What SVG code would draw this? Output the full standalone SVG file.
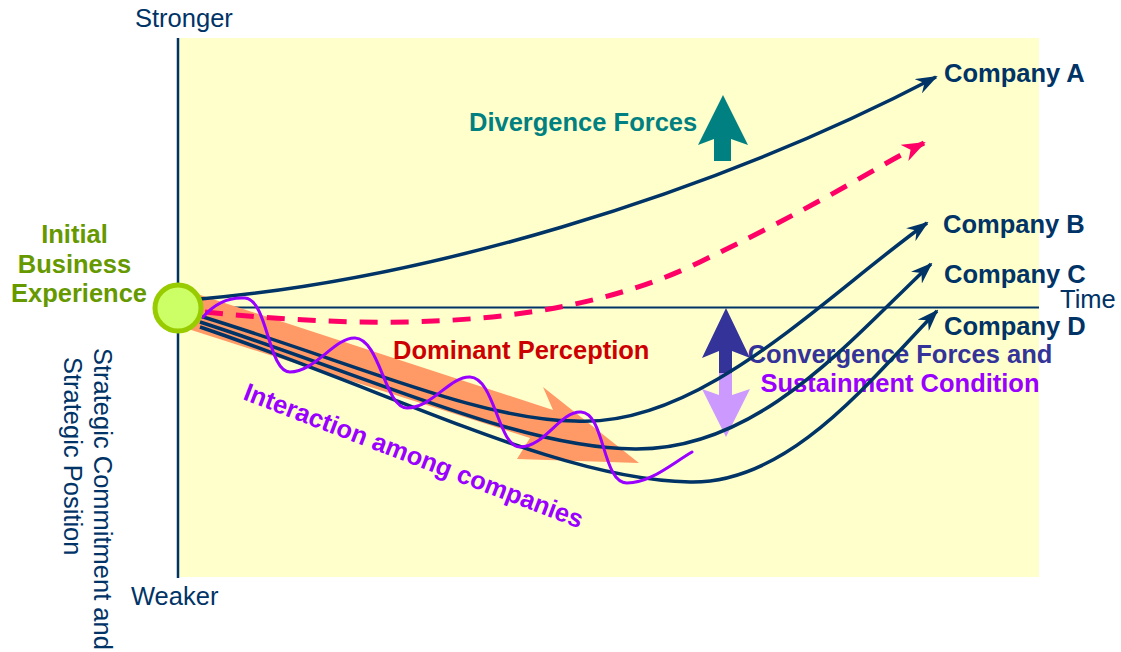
<svg xmlns="http://www.w3.org/2000/svg" width="1121" height="652" viewBox="0 0 1121 652">
  <style>
    .lbl { font-family: "Liberation Sans", Arial, sans-serif; font-size: 25.5px; }
    .b { font-weight: bold; }
    .navy { fill: #003366; }
    .curve { fill: none; stroke: #003366; stroke-width: 3.5; }
    .axis { stroke: #003366; fill: none; }
  </style>
  <defs>
    <marker id="headNavy" markerUnits="userSpaceOnUse" viewBox="0 0 22 16" refX="20" refY="8" markerWidth="22" markerHeight="16" orient="auto">
      <path d="M0,0 L22,8 L0,16 L7,8 z" fill="#003366"/>
    </marker>
    <marker id="headPink" markerUnits="userSpaceOnUse" viewBox="0 0 24 18" refX="22" refY="9" markerWidth="24" markerHeight="18" orient="auto">
      <path d="M0,0 L24,9 L0,18 L7,9 z" fill="#FF0066"/>
    </marker>
  </defs>

  <!-- plot area -->
  <rect x="178" y="38" width="861" height="539" fill="#FFFFCC"/>
  <line class="axis" x1="178" y1="38" x2="178" y2="578" stroke-width="2.5"/>
  <line class="axis" x1="178" y1="307.5" x2="1039" y2="307.5" stroke-width="2"/>

  <!-- axis labels -->
  <g id="axis-labels" class="lbl navy">
    <text x="135" y="27">Stronger</text>
    <text x="131" y="605">Weaker</text>
    <text x="1060" y="308">Time</text>
    <text transform="translate(94,348) rotate(90)">Strategic Commitment and</text>
    <text transform="translate(64,357) rotate(90)">Strategic Position</text>
  </g>

  <!-- dominant perception band -->
  <g id="dominant-perception">
    <polygon points="185,290 553,410 543,387 639,463 517,459 530,438 185,328" fill="#FF9966"/>
    <text class="lbl b" x="393" y="359" fill="#CC0000">Dominant Perception</text>
  </g>

  <!-- divergence forces -->
  <g id="divergence">
    <text class="lbl b" x="469" y="131" fill="#008080">Divergence Forces</text>
    <polygon points="723,95 748,145 731,139 731,161 714,161 714,139 698,145" fill="#008080"/>
  </g>

  <!-- convergence forces -->
  <g id="convergence">
    <polygon points="726,308 750,358 732,351 732,373 719,373 719,351 702,358" fill="#333399"/>
    <polygon points="719,373 732,373 732,395 750,389 726,437 702,389 719,395" fill="#CC99FF"/>
    <text class="lbl b" x="900" y="363" text-anchor="middle" fill="#333399">Convergence Forces and</text>
    <text class="lbl b" x="900" y="392" text-anchor="middle" fill="#9900FF">Sustainment Condition</text>
  </g>

  <!-- interaction label -->
  <g id="interaction">
    <text class="lbl b" fill="#9900FF" transform="translate(242,399) rotate(21)">Interaction among companies</text>
  </g>

  <!-- trajectories -->
  <g id="connectors">
    <path id="path-a" class="curve" d="M200,299 C420,280 700,200 936,77" marker-end="url(#headNavy)"/>
    <path id="path-dashed" d="M205,312 C380,330 560,330 700,262 S870,170 924,143" fill="none" stroke="#FF0066" stroke-width="5" stroke-dasharray="18,13" marker-end="url(#headPink)"/>
    <path id="path-b" class="curve" d="M200,316 C360,365 480,420 575,421 C700,428 820,300 927,223" marker-end="url(#headNavy)"/>
    <path id="path-c" class="curve" d="M200,322 C380,380 520,448 635,449 C760,450 850,340 931,264" marker-end="url(#headNavy)"/>
    <path id="path-d" class="curve" d="M200,327 C400,395 560,480 690,482 C790,484 870,380 937,311" marker-end="url(#headNavy)"/>
    <path id="wave" d="M203,317 C215,303 230,297 245,298 C268,300 268,372 290,372 C315,372 335,337 355,338 C380,339 385,408 407,408 C432,408 450,376 470,377 C495,378 498,447 520,447 C545,447 560,411 581,412 C605,413 602,483 627,483 C650,483 670,465 692,452" fill="none" stroke="#9900FF" stroke-width="3" stroke-linecap="round"/>
  </g>

  <!-- starting point -->
  <g id="initial-experience">
    <circle cx="178" cy="308" r="23" fill="#CCFF66" stroke="#99CC00" stroke-width="5"/>
    <text class="lbl b" text-anchor="middle" fill="#669900">
      <tspan x="78" y="243">Initial</tspan>
      <tspan x="78" y="273">Business</tspan>
      <tspan x="79" y="302">Experience</tspan>
    </text>
  </g>

  <!-- company labels -->
  <g id="company-a"><text class="lbl b navy" x="944" y="82">Company A</text></g>
  <g id="company-b"><text class="lbl b navy" x="943" y="233">Company B</text></g>
  <g id="company-c"><text class="lbl b navy" x="944" y="283">Company C</text></g>
  <g id="company-d"><text class="lbl b navy" x="944" y="335">Company D</text></g>
</svg>
